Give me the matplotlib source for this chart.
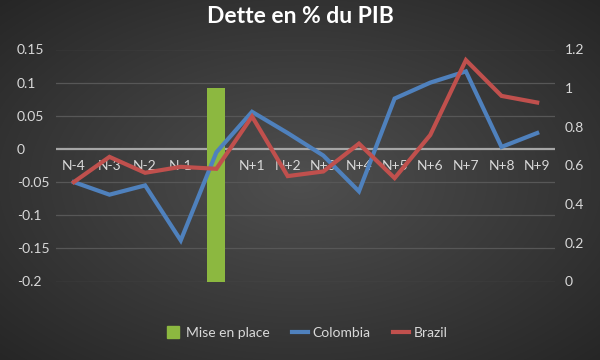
import numpy as np
import matplotlib
matplotlib.use("Agg")
import matplotlib.pyplot as plt
import matplotlib.transforms as mtransforms
from matplotlib.lines import Line2D

# Données
categories = ['N-4', 'N-3', 'N-2', 'N-1', 'N', 'N+1', 'N+2', 'N+3',
              'N+4', 'N+5', 'N+6', 'N+7', 'N+8', 'N+9']
colombia = [-0.050, -0.069, -0.055, -0.138, -0.005, 0.056, 0.024, -0.010,
            -0.064, 0.076, 0.100, 0.117, 0.003, 0.024]
brazil = [-0.050, -0.012, -0.036, -0.027, -0.030, 0.049, -0.041, -0.034,
          0.008, -0.044, 0.021, 0.134, 0.080, 0.070]
mise_en_place = [0, 0, 0, 0, 1.0, 0, 0, 0, 0, 0, 0, 0, 0, 0]

left_ticks = [-0.2, -0.15, -0.1, -0.05, 0, 0.05, 0.1, 0.15]
right_ticks = [0, 0.2, 0.4, 0.6, 0.8, 1.0, 1.2]

plt.rcParams['font.family'] = ['Lato', 'DejaVu Sans']
txt_color = '#d9d9d9'
grid_color = '#575757'

fig = plt.figure(figsize=(6, 3.6), dpi=100)

# fond dégradé radial
bg = fig.add_axes([0, 0, 1, 1], zorder=-10)
yy, xx = np.mgrid[-1:1:360j, -1:1:600j]
r = np.sqrt(xx**2 + yy**2) / np.sqrt(2)
shade = 0.31 - 0.16 * r
bg.imshow(np.dstack([shade] * 3), aspect='auto', extent=[0, 1, 0, 1])
bg.axis('off')

pos = [56 / 600, 1 - 281.5 / 360, (555 - 56) / 600, (281.5 - 49.5) / 360]
x = np.arange(len(categories))

# axe gauche : grille et étiquettes
ax = fig.add_axes(pos, zorder=0)
ax.set_facecolor('none')
ax.set_xlim(-0.5, len(categories) - 0.5)
ax.set_ylim(-0.2, 0.15)
ax.set_yticks(left_ticks)
ax.set_yticklabels(['%g' % t for t in left_ticks])
for t in left_ticks:
    if t == 0:
        ax.axhline(t, color='#a6a6a6', lw=1.6, zorder=1)
    else:
        ax.axhline(t, color=grid_color, lw=0.9, zorder=1)
ax.set_xticks([])
for s in ax.spines.values():
    s.set_visible(False)
ax.tick_params(axis='y', length=0, pad=28, labelsize=10, labelcolor=txt_color)
for lab in ax.get_yticklabels():
    lab.set_ha('left')
trans = mtransforms.offset_copy(ax.transData, fig=fig, x=0, y=-17, units='dots')
for i, c in enumerate(categories):
    ax.text(i, 0, c, transform=trans, ha='center', va='center',
            fontsize=10, color=txt_color, zorder=2)

# axe droit : barre "Mise en place"
ax2 = fig.add_axes(pos, zorder=1, sharex=ax)
ax2.set_facecolor('none')
ax2.bar(x, mise_en_place, width=0.5, color='#8cb840', zorder=2)
ax2.set_ylim(0, 1.2)
ax2.yaxis.tick_right()
ax2.set_yticks(right_ticks)
ax2.set_yticklabels(['%g' % t for t in right_ticks])
ax2.tick_params(axis='y', length=0, pad=7, labelsize=10, labelcolor=txt_color)
ax2.tick_params(axis='x', bottom=False, labelbottom=False)
for s in ax2.spines.values():
    s.set_visible(False)

# courbes au premier plan
ax3 = fig.add_axes(pos, zorder=2, sharex=ax, sharey=ax)
ax3.set_facecolor('none')
ax3.plot(x, colombia, color='#4f81bd', lw=3, solid_joinstyle='miter')
ax3.plot(x, brazil, color='#c0504d', lw=3, solid_joinstyle='miter')
ax3.axis('off')

fig.text(0.5, 0.953, 'Dette en % du PIB', ha='center', va='center',
         fontsize=16.5, fontweight='bold', color='white')

handles = [Line2D([], [], color='#8cb840', marker='s', ls='none', markersize=8),
           Line2D([], [], color='#4f81bd', lw=3),
           Line2D([], [], color='#c0504d', lw=3)]
leg = fig.legend(handles, ['Mise en place', 'Colombia', 'Brazil'],
                 loc='center', bbox_to_anchor=(0.51, 0.075), ncol=3,
                 frameon=False, fontsize=10, handlelength=1.2,
                 handletextpad=0.3, columnspacing=1.6)
for t in leg.get_texts():
    t.set_color(txt_color)

fig.savefig('out.png', dpi=100)
